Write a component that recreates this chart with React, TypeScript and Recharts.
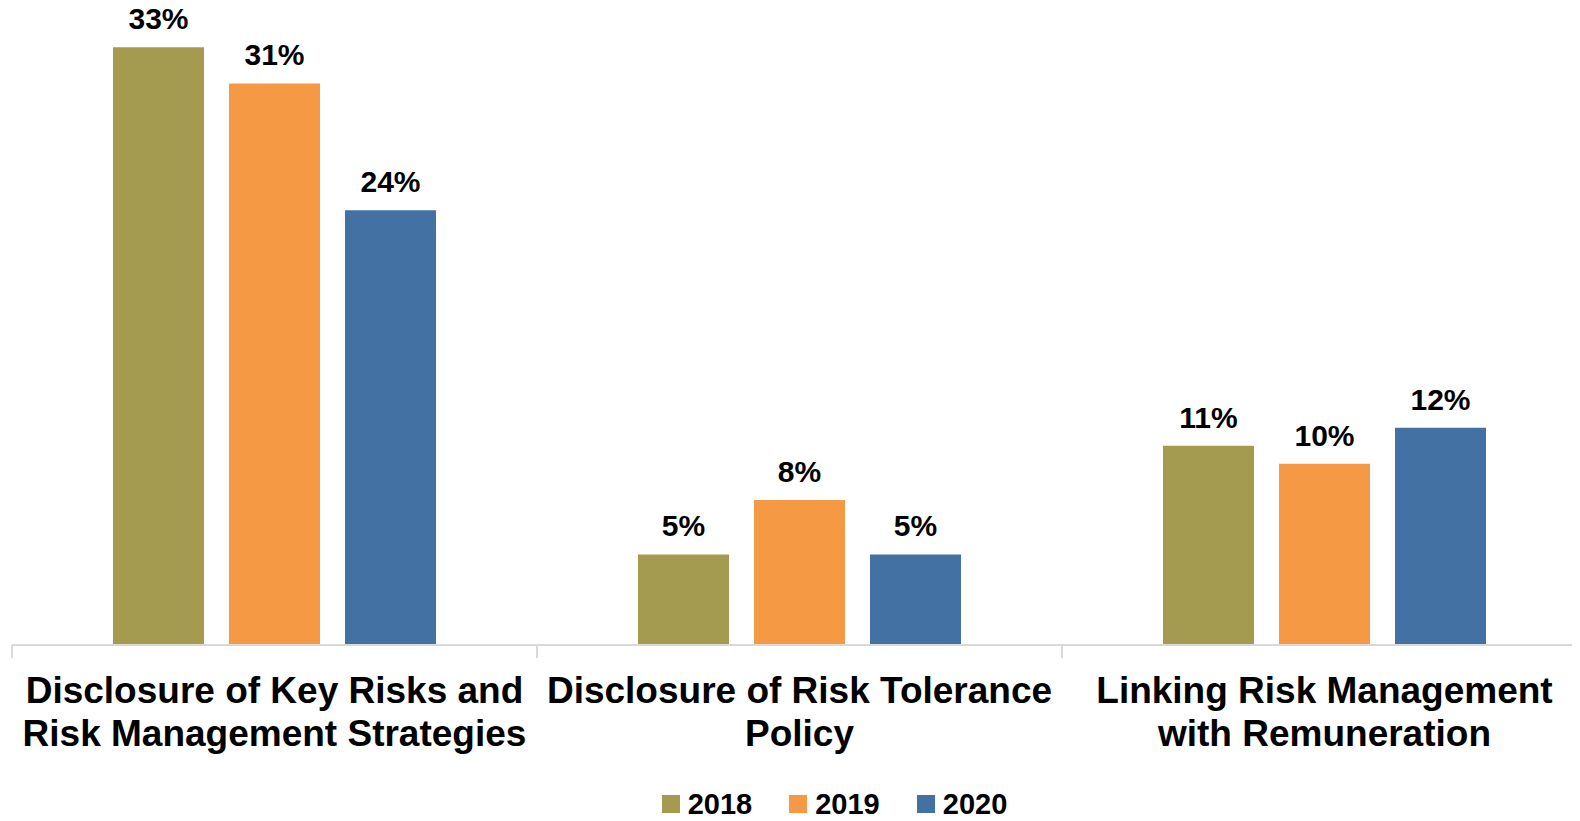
import { Bar, BarChart, LabelList, Legend, XAxis, YAxis } from "recharts";

const categoryLines: string[][] = [
  ["Disclosure of Key Risks and", "Risk Management Strategies"],
  ["Disclosure of Risk Tolerance", "Policy"],
  ["Linking Risk Management", "with Remuneration"],
];
const categories = categoryLines.map((l) => l.join(" "));

const values2018 = [33, 5, 11];
const values2019 = [31, 8, 10];
const values2020 = [24, 5, 12];

const seriesNames = ["2018", "2019", "2020"];
const seriesColors = ["#A59B50", "#F69944", "#4371A3"];

const data = categories.map((name, i) => ({
  name,
  y2018: values2018[i],
  y2019: values2019[i],
  y2020: values2020[i],
}));

const FONT = "'Liberation Sans', Arial, sans-serif";
const CHART_W = 1579;
const CHART_H = 821;
const MARGIN = { top: 11, right: 0, left: 4, bottom: 0 };
const BAND = (CHART_W - MARGIN.left - MARGIN.right) / categories.length;

function CategoryTick(props: any) {
  const { x, y, payload } = props;
  const lines = categoryLines[payload.index] ?? [payload.value];
  return (
    <g>
      <line x1={x - BAND / 2} x2={x - BAND / 2} y1={y} y2={y + 13} stroke="#d9d9d9" strokeWidth={2} />
      {lines.map((line, i) => (
        <text
          key={i}
          x={x}
          y={y + 58 + i * 42.5}
          textAnchor="middle"
          fontFamily={FONT}
          fontWeight="bold"
          fontSize={37}
          fill="#000"
        >
          {line}
        </text>
      ))}
    </g>
  );
}

function YearLegend() {
  return (
    <div
      style={{
        display: "flex",
        justifyContent: "center",
        paddingLeft: 70,
        fontFamily: FONT,
        fontWeight: "bold",
        fontSize: 29,
        lineHeight: "34px",
        height: 34,
        color: "#000",
      }}
    >
      {seriesNames.map((n, i) => (
        <div key={n} style={{ display: "flex", alignItems: "center", marginRight: i < 2 ? 37 : 0 }}>
          <span style={{ width: 18, height: 18, background: seriesColors[i], marginRight: 8, display: "inline-block" }} />
          <span>{n}</span>
        </div>
      ))}
    </div>
  );
}

export default function App() {
  return (
    <div style={{ width: 1572, overflow: "hidden", marginTop: -8 }}>
      <BarChart
        width={CHART_W}
        height={CHART_H}
        data={data}
        margin={MARGIN}
        barSize={91}
        barGap={25}
      >
        <XAxis
          dataKey="name"
          height={142}
          axisLine={{ stroke: "#d9d9d9", strokeWidth: 2 }}
          tickLine={false}
          tickSize={0}
          tickMargin={0}
          interval={0}
          tick={<CategoryTick />}
        />
        <YAxis hide domain={[0, 35]} />
        <Legend verticalAlign="bottom" height={34} content={<YearLegend />} />
        {["y2018", "y2019", "y2020"].map((key, i) => (
          <Bar key={key} dataKey={key} name={seriesNames[i]} fill={seriesColors[i]} isAnimationActive={false}>
            <LabelList
              dataKey={key}
              position="top"
              offset={18}
              formatter={(v: any) => `${v}%`}
              style={{ fontFamily: FONT, fontWeight: "bold", fontSize: 30, fill: "#000" }}
            />
          </Bar>
        ))}
      </BarChart>
    </div>
  );
}
